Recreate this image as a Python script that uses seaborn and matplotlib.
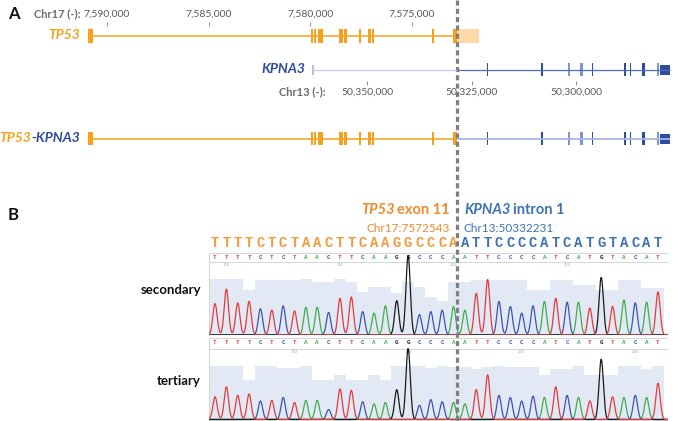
import numpy as np
import pandas as pd
import matplotlib.pyplot as plt
import seaborn as sns

W, H = 675, 421

# ---- panel A: gene models (bp) ----
chr17_ticks = [7590000, 7585000, 7580000, 7575000]
chr13_ticks = [50350000, 50325000, 50300000]

tp53_start = 7590836
break_chr17 = 7572784
tp53_exons = [(7590935, 7590689), (7579966, 7579867), (7579818, 7579720), (7579621, 7579375),
              (7578588, 7578392), (7578342, 7578195), (7577604, 7577506), (7577162, 7577014),
              (7576965, 7576867), (7574014, 7573915), (7572981, 7572784)]
tp53_utr = (7572784, 7571702)

kpna3_start = 50362919
break_chr13 = 50328469
kpna3_end = 50277512
kpna3_exons = [(50321400, 50321160), (50308373, 50307895), (50301795, 50301555), (50299043, 50298325),
               (50296292, 50296052), (50288398, 50288158), (50287201, 50286961), (50284330, 50284090),
               (50283852, 50283612), (50280620, 50280140)]
kpna3_shade = ['dark', 'dark', 'light', 'light', 'dark', 'dark', 'dark', 'dark', 'dark', 'light']
kpna3_last = (50279904, 50277512)

# ---- panel B: chromatograms ----
seq_tp53 = "TTTTCTCTAACTTCAAGGCCCA"
seq_kpna3 = "ATTCCCCATCATGTACAT"
bases = list(seq_tp53 + seq_kpna3)

secondary_peaks = [0.43, 0.63, 0.44, 0.46, 0.36, 0.34, 0.40, 0.33, 0.38, 0.38, 0.31, 0.50, 0.52, 0.32,
                   0.30, 0.40, 0.47, 1.09, 0.28, 0.32, 0.34, 0.39, 0.34, 0.57, 0.76, 0.46, 0.39, 0.30,
                   0.40, 0.46, 0.50, 0.45, 0.45, 0.37, 0.79, 0.39, 0.48, 0.44, 0.45, 0.59]
tertiary_peaks = [0.32, 0.46, 0.34, 0.36, 0.26, 0.27, 0.31, 0.24, 0.27, 0.27, 0.14, 0.43, 0.41, 0.25,
                  0.22, 0.24, 0.42, 1.00, 0.20, 0.28, 0.25, 0.24, 0.22, 0.42, 0.63, 0.34, 0.31, 0.26,
                  0.33, 0.31, 0.46, 0.34, 0.31, 0.26, 0.85, 0.32, 0.31, 0.34, 0.31, 0.51]
secondary_qual = [0.77, 0.77, 0.77, 0.61, 0.76, 0.76, 0.76, 0.76, 0.77, 0.72, 0.72, 0.77, 0.72, 0.59,
                  0.66, 0.66, 0.58, 0.73, 0.66, 0.52, 0.47, 0.72, 0.72, 0.75, 0.75, 0.75, 0.75, 0.75,
                  0.61, 0.61, 0.76, 0.76, 0.68, 0.68, 0.61, 0.61, 0.76, 0.76, 0.64, 0.64]
tertiary_qual = [0.76, 0.76, 0.76, 0.55, 0.76, 0.76, 0.73, 0.73, 0.76, 0.55, 0.55, 0.63, 0.55, 0.55,
                 0.62, 0.55, 0.76, 0.76, 0.76, 0.73, 0.76, 0.74, 0.74, 0.71, 0.74, 0.76, 0.74, 0.74,
                 0.74, 0.62, 0.71, 0.71, 0.76, 0.62, 0.62, 0.62, 0.76, 0.76, 0.71, 0.76]
secondary_pos = {2: 100, 12: 110, 22: 120, 32: 130}
tertiary_pos = {8: 110, 18: 120, 28: 130, 38: 140}

base_colors = {'A': '#3fae4a', 'C': '#3b55b0', 'G': '#1a1a1a', 'T': '#e23b3d'}
ORANGE = '#f6a11d'
ORANGE_TXT = '#f08a2a'
BLUE = '#2d4ba0'
BLUE_LIGHT = '#8095cf'
BLUE_TXT = '#3d72b4'

sns.set_theme(style="white")
plt.rcParams['font.family'] = ['Lato', 'DejaVu Sans']

fig = plt.figure(figsize=(W / 100, H / 100), dpi=100)


def rect(l, t, r, b):
    return [l / W, 1 - b / H, (r - l) / W, (b - t) / H]


# overlay axes in genomic x (chr17) and pixel y
ax = fig.add_axes([0, 0, 1, 1])
ax.set_xlim(7595263, 7562061)
ax.set_ylim(H, 0)
ax.axis('off')
ax13 = ax.twiny()
ax13.set_xlim(50437799, 50276316)
ax13.set_ylim(H, 0)
ax13.axis('off')
for a, z in ((ax, 10), (ax13, 11)):
    a.set_zorder(z)
    a.patch.set_visible(False)


def exons(a, spans, y, h, color):
    a.broken_barh([(min(s, e), abs(s - e)) for s, e in spans], (y - h / 2, h), color=color, lw=0)


# TP53 row
ax.hlines(36, tp53_start, break_chr17, color=ORANGE, lw=1.1)
exons(ax, tp53_exons, 36, 13.5, ORANGE)
exons(ax, [tp53_utr], 36, 13.5, '#fdd9a8')

# KPNA3 row
ax13.hlines(69.5, kpna3_start, break_chr13, color='#c9cceb', lw=0.9)
ax13.hlines(69.5, break_chr13, kpna3_end, color='#4f6db6', lw=0.9)
exons(ax13, [(kpna3_start + 150, kpna3_start - 150)], 69.5, 10, '#b9bfe6')
for ex, sh in zip(kpna3_exons, kpna3_shade):
    exons(ax13, [ex], 69.5, 13.5, BLUE if sh == 'dark' else BLUE_LIGHT)
exons(ax13, [kpna3_last], 69.5, 10, BLUE)

# fusion row
ax.hlines(138.5, tp53_start, break_chr17, color=ORANGE, lw=1.1)
exons(ax, tp53_exons, 138.5, 13.5, ORANGE)
ax13.hlines(138.5, break_chr13, kpna3_end, color='#a7b6e0', lw=1.3)
for ex, sh in zip(kpna3_exons, kpna3_shade):
    exons(ax13, [ex], 138.5, 13.5, BLUE if sh == 'dark' else BLUE_LIGHT)
exons(ax13, [kpna3_last], 138.5, 10, BLUE)

# coordinate ticks
ax.vlines(chr17_ticks, 22, 26, color='#9a9a9a', lw=0.8)
for t in chr17_ticks:
    ax.text(t, 14, f"{t:,}", ha='center', va='center', fontsize=7.5, color='#5a5a5a')
ax13.vlines(chr13_ticks, 81, 85, color='#9a9a9a', lw=0.8)
for t in chr13_ticks:
    ax13.text(t, 92, f"{t:,}", ha='center', va='center', fontsize=7.5, color='#5a5a5a')

# breakpoint
ax.plot([break_chr17, break_chr17], [0, H], color='#7f7f7f', lw=2.3, dashes=(1.6, 1.0),
        solid_capstyle='butt', clip_on=False)


# ---- text helper ----
renderer = fig.canvas.get_renderer()


def runs(x, y, parts, align='left', gap=0):
    arts = []
    for s, kw in parts:
        t = fig.text(0, 0, s, va='center', ha='left', **kw)
        arts.append((t, t.get_window_extent(renderer).width))
    total = sum(w for _, w in arts) + gap * (len(arts) - 1)
    cur = x if align == 'left' else x - total
    for t, w in arts:
        t.set_position((cur / W, 1 - y / H))
        cur += w + gap


ital = dict(style='italic', weight='bold')
fig.text(8 / W, 1 - 14 / H, 'A', fontsize=12, weight='bold', va='center', color='#111')
fig.text(8 / W, 1 - 215 / H, 'B', fontsize=12, weight='bold', va='center', color='#111')
fig.text(81 / W, 1 - 14 / H, 'Chr17 (-):', fontsize=8, weight='bold', color='#6b6b6b',
         ha='right', va='center')
fig.text(326 / W, 1 - 92 / H, 'Chr13 (-):', fontsize=8, weight='bold', color='#6b6b6b',
         ha='right', va='center')
runs(80, 35, [('TP53', dict(fontsize=10, color=ORANGE, **ital))], align='right')
runs(305, 69, [('KPNA3', dict(fontsize=10, color=BLUE, **ital))], align='right')
runs(80, 138, [('TP53', dict(fontsize=10, color=ORANGE, **ital)),
               ('-KPNA3', dict(fontsize=10, color=BLUE, **ital))], align='right')

runs(450, 210, [('TP53', dict(fontsize=10.5, color=ORANGE_TXT, **ital)),
                ('exon 11', dict(fontsize=10.5, color=ORANGE_TXT, weight='bold'))],
     align='right', gap=3)
runs(464, 210, [('KPNA3', dict(fontsize=10.5, color=BLUE_TXT, **ital)),
                ('intron 1', dict(fontsize=10.5, color=BLUE_TXT, weight='bold'))], gap=3)
fig.text(450 / W, 1 - 228 / H, 'Chr17:7572543', fontsize=8.5, color=ORANGE_TXT, ha='right', va='center')
fig.text(464 / W, 1 - 228 / H, 'Chr13:50332231', fontsize=8.5, color=BLUE_TXT, ha='left', va='center')
fig.text(201 / W, 1 - 290 / H, 'secondary', fontsize=9.5, weight='bold', ha='right', va='center', color='#111')
fig.text(201 / W, 1 - 381 / H, 'tertiary', fontsize=9.5, weight='bold', ha='right', va='center', color='#111')


# ---- chromatograms ----
def chromatogram(box, peaks, qual, pos_labels, ylim):
    a = fig.add_axes(rect(*box))
    a.set_xlim(0.47, 40.88)
    a.set_ylim(*ylim)
    idx = np.arange(1, len(bases) + 1)
    xs = np.repeat(np.arange(0.5, len(bases) + 1.5), 2)[1:-1]
    a.fill_between(xs, 0, np.repeat(qual, 2), color='#e3e9f4', lw=0)
    a.add_patch(plt.Rectangle((0.47, 1.0), 40.4, ylim[1] - 1.0, facecolor='white',
                              edgecolor='#cfcfcf', lw=0.6, zorder=2))
    for i, b in zip(idx, bases):
        a.text(i, 1.0 + (ylim[1] - 1.0) * 0.55, b, ha='center', va='center', fontsize=4.2,
               family='Liberation Mono', weight='bold', color=base_colors[b], zorder=3)
    for i, p in pos_labels.items():
        a.text(i, 0.985, str(p), ha='center', va='top', fontsize=3, color='#aaaaaa', zorder=3)
    grid = np.linspace(0.47, 40.88, 1600)
    frames = []
    for b in 'ACGT':
        sig = np.zeros_like(grid)
        for i, bb, p in zip(idx, bases, peaks):
            if bb == b:
                sig += p * np.exp(-0.5 * ((grid - i) / 0.19) ** 2)
        frames.append(pd.DataFrame({'x': grid, 'signal': sig, 'base': b}))
    df = pd.concat(frames)
    sns.lineplot(data=df, x='x', y='signal', hue='base', palette=base_colors, estimator=None,
                 sort=False, legend=False, lw=0.9, ax=a, zorder=4)
    a.set_xlabel('')
    a.set_ylabel('')
    a.set_xticks([])
    a.set_yticks([])
    for s in ('top', 'right', 'bottom'):
        a.spines[s].set_visible(False)
    a.spines['left'].set_color('#cfcfcf')
    a.spines['left'].set_linewidth(0.6)
    return a


ax_sec = chromatogram((209, 253, 668, 335), secondary_peaks, secondary_qual, secondary_pos,
                      (0, 82 / 73))
ax_ter = chromatogram((209, 338, 668, 421), tertiary_peaks, tertiary_qual, tertiary_pos,
                      (-1.5 / 71, 81.5 / 71))

# called sequence above the traces
for i, b in enumerate(bases, start=1):
    ax_sec.text(i, (335 - 243) / 73, b, ha='center', va='center', fontsize=10,
                family='Liberation Mono', weight='bold',
                color='#f39b3a' if i <= len(seq_tp53) else BLUE_TXT, clip_on=False)

fig.savefig('out.png', dpi=100)
